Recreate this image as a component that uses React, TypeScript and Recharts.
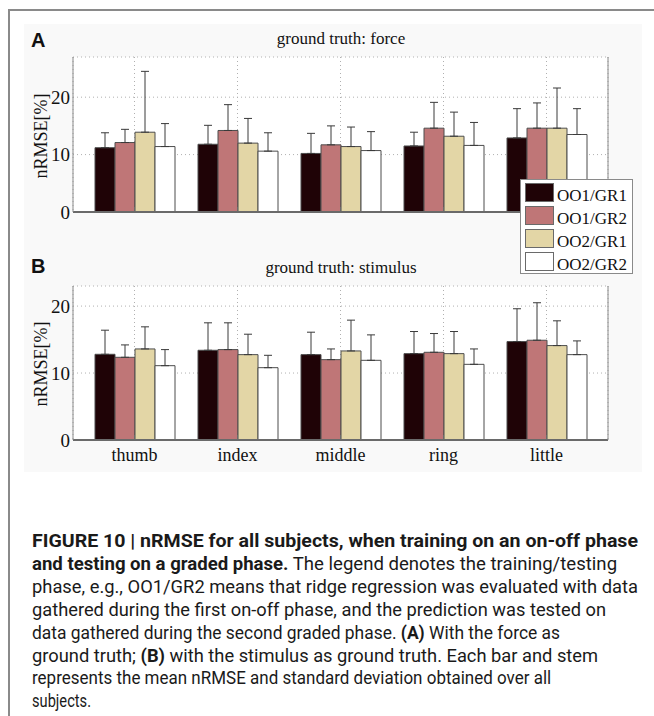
import React, { useLayoutEffect, useRef, useState } from "react";
import { Bar, BarChart, CartesianGrid, ErrorBar, XAxis, YAxis } from "recharts";

const fingers = ["thumb", "index", "middle", "ring", "little"];
const phases = ["OO1/GR1", "OO1/GR2", "OO2/GR1", "OO2/GR2"];
const phaseColors = ["#1f0306", "#bf7677", "#e3d6a6", "#ffffff"];
const yTicks = [0, 10, 20];

// ground truth: force, mean nRMSE [%] per finger
const forceOO1GR1 = [11.2, 11.8, 10.2, 11.5, 12.9];
const forceOO1GR2 = [12.1, 14.2, 11.7, 14.6, 14.6];
const forceOO2GR1 = [13.9, 12.0, 11.4, 13.2, 14.6];
const forceOO2GR2 = [11.4, 10.6, 10.7, 11.6, 13.5];
// ground truth: force, standard deviation
const forceSdOO1GR1 = [2.6, 3.3, 3.5, 2.4, 5.1];
const forceSdOO1GR2 = [2.3, 4.5, 3.3, 4.5, 4.4];
const forceSdOO2GR1 = [10.6, 4.3, 3.4, 4.2, 7.0];
const forceSdOO2GR2 = [4.0, 3.2, 3.3, 4.0, 4.5];

// ground truth: stimulus, mean nRMSE [%] per finger
const stimOO1GR1 = [12.8, 13.4, 12.75, 12.9, 14.7];
const stimOO1GR2 = [12.35, 13.5, 12.0, 13.1, 14.9];
const stimOO2GR1 = [13.6, 12.75, 13.3, 12.9, 14.1];
const stimOO2GR2 = [11.1, 10.8, 11.9, 11.3, 12.75];
// ground truth: stimulus, standard deviation
const stimSdOO1GR1 = [3.6, 4.1, 3.35, 3.3, 4.9];
const stimSdOO1GR2 = [1.85, 4.0, 1.6, 2.8, 5.6];
const stimSdOO2GR1 = [3.3, 3.05, 4.6, 3.3, 3.7];
const stimSdOO2GR2 = [2.4, 1.85, 3.8, 2.3, 2.05];

const SERIF = "'Liberation Serif', 'Times New Roman', serif";
const SANS = "'Liberation Sans', Arial, sans-serif";
const CAPTION = "Roboto, 'Liberation Sans', sans-serif";

type Row = { finger: string; [key: string]: string | number };

function buildRows(means: number[][], sds: number[][]): Row[] {
  return fingers.map((finger, i) => {
    const row: Row = { finger };
    means.forEach((m, k) => {
      row[`m${k}`] = m[i];
      row[`s${k}`] = sds[k][i];
    });
    return row;
  });
}

const blankTick = () => <g />;

interface PanelProps {
  top: number;
  height: number;
  plotTop: number;
  axisHeight: number;
  yMax: number;
  means: number[][];
  sds: number[][];
  showLabels: boolean;
}

function Panel({ top, height, plotTop, axisHeight, yMax, means, sds, showLabels }: PanelProps) {
  const data = buildRows(means, sds);
  return (
    <div style={{ position: "absolute", left: 0, top, width: 654, height }}>
      <BarChart
        width={654}
        height={height}
        data={data}
        margin={{ top: plotTop, right: 45, bottom: 0, left: 33 }}
        barCategoryGap={12}
        barGap={0}
      >
        <CartesianGrid stroke="#b0b0b0" strokeDasharray="1 3" fill="#ffffff" fillOpacity={1} />
        <XAxis
          dataKey="finger"
          height={axisHeight}
          padding={{ left: 10, right: 10 }}
          axisLine={{ stroke: "#6a6a6a", strokeWidth: 2 }}
          tickLine={{ stroke: "#6a6a6a" }}
          tickSize={-5}
          tickMargin={13}
          tick={showLabels ? { fill: "#111", fontSize: 18, fontFamily: SERIF } : blankTick}
          interval={0}
        />
        <XAxis
          xAxisId="top"
          orientation="top"
          dataKey="finger"
          height={0}
          padding={{ left: 10, right: 10 }}
          axisLine={{ stroke: "#8a8a8a" }}
          tickLine={{ stroke: "#8a8a8a" }}
          tickSize={-5}
          tick={blankTick}
          interval={0}
        />
        <YAxis
          domain={[0, yMax]}
          ticks={yTicks}
          width={40}
          axisLine={{ stroke: "#8a8a8a" }}
          tickLine={false}
          tickSize={0}
          tickMargin={3}
          tick={{ fill: "#111", fontSize: 19, fontFamily: SERIF }}
        />
        <YAxis
          yAxisId="right"
          orientation="right"
          domain={[0, yMax]}
          ticks={yTicks}
          width={1}
          axisLine={{ stroke: "#8a8a8a" }}
          tickLine={{ stroke: "#8a8a8a" }}
          tickSize={-5}
          tick={blankTick}
        />
        {phases.map((name, k) => (
          <Bar
            key={name}
            dataKey={`m${k}`}
            name={name}
            fill={phaseColors[k]}
            stroke="#4d4d4d"
            strokeWidth={1}
            isAnimationActive={false}
          >
            <ErrorBar
              dataKey={(row: Row) => [0, row[`s${k}`] as number]}
              width={4}
              stroke="#3a3a3a"
              strokeWidth={1}
              direction="y"
              isAnimationActive={false}
            />
          </Bar>
        ))}
      </BarChart>
    </div>
  );
}

// caption lines as runs of [text, bold], with the width each line fills
type Run = [string, boolean];

const captionLines: { runs: Run[]; width: number }[] = [
  { runs: [["FIGURE 10 | nRMSE for all subjects, when training on an on-off phase", true]], width: 606 },
  {
    runs: [
      ["and testing on a graded phase.", true],
      [" The legend denotes the training/testing", false],
    ],
    width: 585,
  },
  { runs: [["phase, e.g., OO1/GR2 means that ridge regression was evaluated with data", false]], width: 606 },
  { runs: [["gathered during the first on-off phase, and the prediction was tested on", false]], width: 574 },
  {
    runs: [
      ["data gathered during the second graded phase. ", false],
      ["(A)", true],
      [" With the force as", false],
    ],
    width: 528,
  },
  {
    runs: [
      ["ground truth; ", false],
      ["(B)", true],
      [" with the stimulus as ground truth. Each bar and stem", false],
    ],
    width: 566,
  },
  { runs: [["represents the mean nRMSE and standard deviation obtained over all", false]], width: 519 },
  { runs: [["subjects.", false]], width: 59 },
];

// Condensed caption: each line is measured once and squeezed horizontally to its width.
function Caption() {
  const refs = useRef<(SVGTextElement | null)[]>([]);
  const [scales, setScales] = useState<number[]>(captionLines.map(() => 0.9));

  useLayoutEffect(() => {
    setScales(
      captionLines.map((line, i) => {
        const el = refs.current[i];
        const natural = el ? el.getComputedTextLength() : 0;
        return natural > 0 ? line.width / natural : 0.9;
      })
    );
  }, []);

  return (
    <g>
      {captionLines.map((line, i) => (
        <g key={i} transform={`translate(32 ${547 + i * 22.9}) scale(${scales[i]} 1)`}>
          <text
            ref={(el) => {
              refs.current[i] = el;
            }}
            x={0}
            y={0}
            fontFamily={CAPTION}
            fontSize={18}
            fill="#1a1a1a"
            style={{ whiteSpace: "pre" }}
          >
            {line.runs.map(([t, bold], j) => (
              <tspan key={j} fontWeight={bold ? "bold" : "normal"}>
                {t}
              </tspan>
            ))}
          </text>
        </g>
      ))}
    </g>
  );
}

export default function App() {
  return (
    <div style={{ position: "absolute", left: 0, top: 0, width: 654, height: 716, background: "#fff" }}>
      <div style={{ position: "absolute", left: 24, top: 24, width: 618, height: 448, background: "#f9f9f9" }} />

      <Panel
        top={0}
        height={230}
        plotTop={57}
        axisHeight={18}
        yMax={27}
        means={[forceOO1GR1, forceOO1GR2, forceOO2GR1, forceOO2GR2]}
        sds={[forceSdOO1GR1, forceSdOO1GR2, forceSdOO2GR1, forceSdOO2GR2]}
        showLabels={false}
      />
      <Panel
        top={230}
        height={250}
        plotTop={56}
        axisHeight={40}
        yMax={23}
        means={[stimOO1GR1, stimOO1GR2, stimOO2GR1, stimOO2GR2]}
        sds={[stimSdOO1GR1, stimSdOO1GR2, stimSdOO2GR1, stimSdOO2GR2]}
        showLabels={true}
      />

      <svg width={654} height={716} style={{ position: "absolute", left: 0, top: 0, pointerEvents: "none" }}>
        {/* figure frame */}
        <line x1={9} y1={10} x2={654} y2={10} stroke="#8a8a8a" strokeWidth={2} />
        <line x1={9} y1={9} x2={9} y2={716} stroke="#8a8a8a" strokeWidth={2} />

        {/* panel letters and titles */}
        <text x={31} y={47} fontFamily={SANS} fontWeight="bold" fontSize={20} fill="#111">A</text>
        <text x={341} y={44} textAnchor="middle" fontFamily={SERIF} fontSize={17} fill="#111">
          ground truth: force
        </text>
        <text x={31} y={273} fontFamily={SANS} fontWeight="bold" fontSize={20} fill="#111">B</text>
        <text x={341} y={273} textAnchor="middle" fontFamily={SERIF} fontSize={17} fill="#111">
          ground truth: stimulus
        </text>

        {/* y axis titles */}
        <text
          transform="translate(47 136) rotate(-90)"
          textAnchor="middle"
          fontFamily={SERIF}
          fontSize={18}
          fill="#111"
        >
          nRMSE[%]
        </text>
        <text
          transform="translate(47 364) rotate(-90)"
          textAnchor="middle"
          fontFamily={SERIF}
          fontSize={18}
          fill="#111"
        >
          nRMSE[%]
        </text>

        {/* legend */}
        <rect x={520.5} y={179.5} width={112} height={94} fill="#fff" stroke="#8a8a8a" />
        {phases.map((name, k) => (
          <g key={name}>
            <rect
              x={525.5}
              y={183.5 + k * 23}
              width={28}
              height={18}
              fill={phaseColors[k]}
              stroke="#6a6a6a"
            />
            <text x={557} y={201 + k * 23} fontFamily={SERIF} fontSize={17} fill="#111">
              {name}
            </text>
          </g>
        ))}

        <Caption />
      </svg>
    </div>
  );
}
